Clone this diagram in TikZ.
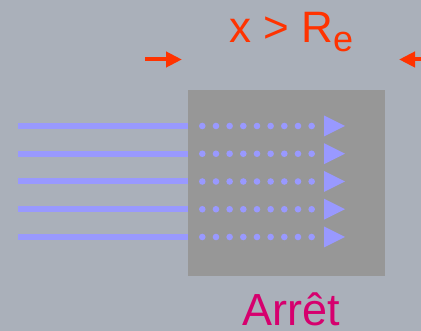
\documentclass[tikz,border=0pt]{standalone}
\usepackage{fontspec}
\setmainfont{Liberation Sans}
\usetikzlibrary{arrows.meta}
\definecolor{slide}{RGB}{170,176,186}
\definecolor{stopgray}{RGB}{151,151,151}
\definecolor{beam}{RGB}{153,153,255}
\definecolor{rangered}{RGB}{255,51,0}
\definecolor{stopred}{RGB}{214,0,110}

\tikzset{
  beamline/.style={draw=beam, line width=6pt},
  rangearrow/.style={draw=rangered, line width=4pt, -{Triangle[length=16pt,width=15pt]}},
}

\begin{document}
\begin{tikzpicture}[x=1pt,y=-1pt]
  \fill[slide] (0,0) rectangle (421,331);
  \useasboundingbox (0,0) rectangle (421,331);
  % the stopping block
  \node[fill=stopgray, minimum width=197pt, minimum height=186pt, inner sep=0, anchor=north west] (stop) at (187.5,89.5) {};
  % incoming beam, stopped inside the block
  \foreach \k in {0,...,4} {
    \coordinate (src\k) at (18,{126+27.75*\k});
    \draw[beamline] (src\k) -- (src\k -| stop.west);
    \foreach \j in {0,...,8}
      \fill[beam] ({202.3+13.67*\j},{126+27.75*\k}) circle (3.3pt);
    \fill[beam] (324,{115.5+27.75*\k}) -- (345,{126+27.75*\k}) -- (324,{136.5+27.75*\k}) -- cycle;
  }
  % range markers
  \coordinate (lefttail) at (145,59.5); \coordinate (lefttip) at (182,59.5);
  \coordinate (righttail) at (426,59.5); \coordinate (righttip) at (399,59.5);
  \draw[rangearrow] (lefttail) -- (lefttip);
  \draw[rangearrow] (righttail) -- (righttip);
  \node[text=rangered, inner sep=0, anchor=base west, font=\fontsize{44}{44}\selectfont] (range) at (229,43)
    {x > R\raisebox{-9pt}{\fontsize{36}{36}\selectfont e}};
  \node[text=stopred, inner sep=0, text depth=0pt, anchor=base, font=\fontsize{45}{45}\selectfont] (stoplabel) at (291,326) {Arrêt};
\end{tikzpicture}
\end{document}
